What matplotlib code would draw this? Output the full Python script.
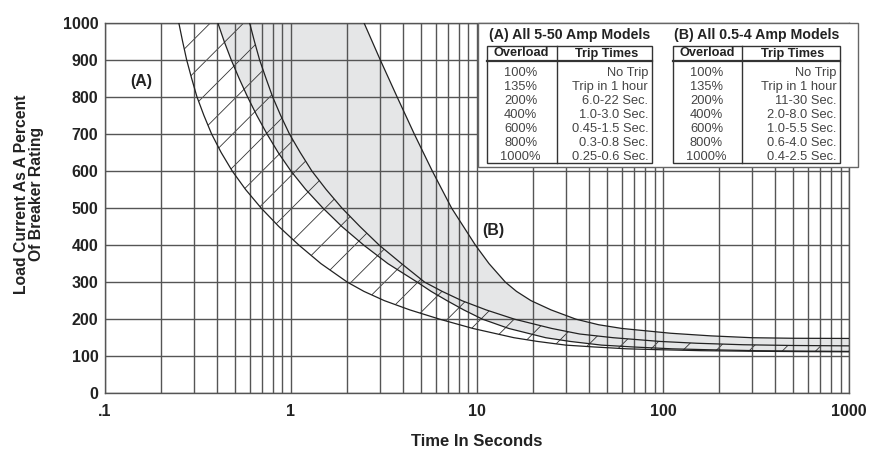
import numpy as np
import matplotlib
matplotlib.use("Agg")
import matplotlib.pyplot as plt
from matplotlib.patches import Rectangle
from matplotlib.lines import Line2D
from matplotlib.ticker import LogLocator, FixedLocator, NullFormatter

plt.rcParams['font.family'] = ['Liberation Sans', 'DejaVu Sans']
plt.rcParams['hatch.linewidth'] = 0.6

# ---- data: trip curves (load % of rating vs. time in seconds) ----
# (A) band, lower edge
a_lo_v = [1000, 950, 900, 850, 800, 750, 700, 650, 600, 550, 500, 450, 400, 350, 300,
          275, 250, 225, 200, 175, 150, 140, 130, 125, 120, 117.5, 115, 113.5, 112.5, 112]
a_lo_t = [0.25, 0.262, 0.2755, 0.293, 0.313, 0.341, 0.375, 0.422, 0.484, 0.571, 0.692,
          0.862, 1.104, 1.45, 2.01, 2.47, 3.18, 4.36, 6.3, 9.5, 15.8, 21.1, 30, 42.7, 64,
          98, 160, 300, 550, 1000]
# (A) band, upper edge
a_hi_v = [1000, 950, 900, 850, 800, 750, 700, 650, 600, 550, 500, 450, 400, 350, 300,
          275, 250, 225, 200, 175, 160, 150, 140, 135, 131, 129, 128]
a_hi_t = [0.6, 0.637, 0.679, 0.735, 0.798, 0.881, 0.982, 1.122, 1.296, 1.547, 1.88,
          2.35, 2.98, 3.93, 5.23, 6.5, 8.29, 11.2, 15.9, 25.2, 35.6, 53.9, 95.8, 152,
          270, 500, 1000]
# (B) band, lower edge
b_lo_v = [1000, 950, 900, 850, 800, 750, 700, 650, 600, 550, 500, 450, 400, 350, 300,
          275, 250, 225, 200, 175, 150, 140, 130, 125, 120, 117.5, 115, 114, 113]
b_lo_t = [0.405, 0.438, 0.478, 0.527, 0.585, 0.656, 0.744, 0.854, 1.0, 1.202, 1.486,
          1.88, 2.46, 3.32, 4.77, 5.67, 6.9, 8.49, 10.7, 14.8, 23.4, 31.6, 46.7, 69, 112,
          177, 316, 525, 1000]
# (B) band, upper edge
b_hi_v = [1000, 950, 900, 850, 800, 750, 700, 650, 600, 550, 500, 450, 400, 350, 300,
          275, 250, 225, 200, 185, 175, 162, 155, 150, 148.5, 148]
b_hi_t = [2.47, 2.731, 3.02, 3.352, 3.72, 4.137, 4.6, 5.143, 5.75, 6.479, 7.3, 8.458,
          9.8, 11.6, 14.2, 16.3, 19.5, 25, 34, 45, 60, 110, 180, 300, 500, 1000]

x_ticks = [0.1, 1, 10, 100, 1000]
x_labels = ['.1', '1', '10', '100', '1000']
y_ticks = list(range(0, 1001, 100))

# ---- table data ----
title_a = "(A) All 5-50 Amp Models"
title_b = "(B) All 0.5-4 Amp Models"
overloads = ['100%', '135%', '200%', '400%', '600%', '800%', '1000%']
trip_a = ['No Trip', 'Trip in 1 hour', '6.0-22 Sec.', '1.0-3.0 Sec.', '0.45-1.5 Sec.',
          '0.3-0.8 Sec.', '0.25-0.6 Sec.']
trip_b = ['No Trip', 'Trip in 1 hour', '11-30 Sec.', '2.0-8.0 Sec.', '1.0-5.5 Sec.',
          '0.6-4.0 Sec.', '0.4-2.5 Sec.']

W, H = 869, 453
fig = plt.figure(figsize=(W / 100, H / 100), dpi=100)

L, R, T, B = 104.7, 849.3, 22.7, 393.3
ax = fig.add_axes([L / W, 1 - B / H, (R - L) / W, (B - T) / H])
ax.set_xscale('log')
ax.set_xlim(0.1, 1000)
ax.set_ylim(0, 1000)

txt_c = '#222222'
grid_c = '#555555'
ax.xaxis.set_major_locator(FixedLocator(x_ticks))
ax.set_xticklabels(x_labels)
ax.xaxis.set_minor_locator(LogLocator(base=10, subs=np.arange(2, 10)))
ax.xaxis.set_minor_formatter(NullFormatter())
ax.set_yticks(y_ticks)
ax.set_yticklabels([str(v) for v in y_ticks])
ax.tick_params(which='both', length=0)
ax.tick_params(axis='x', pad=8, labelsize=11.5)
ax.tick_params(axis='y', pad=4.5, labelsize=11.5)
for lab in ax.get_xticklabels() + ax.get_yticklabels():
    lab.set_fontweight('bold')
    lab.set_color(txt_c)
ax.grid(which='both', color=grid_c, lw=1.0)
ax.set_axisbelow(False)
for s in ax.spines.values():
    s.set_color(grid_c)
    s.set_linewidth(1.0)

# gray band B
ax.fill(np.r_[b_lo_t, b_hi_t[::-1]], np.r_[b_lo_v, b_hi_v[::-1]],
        facecolor='#e5e6e7', edgecolor='none', zorder=1)
# hatched band A
ax.fill(np.r_[a_lo_t, a_hi_t[::-1]], np.r_[a_lo_v, a_hi_v[::-1]],
        facecolor='none', edgecolor='#333333', hatch='/', linewidth=0, zorder=1.5)

for t, v in [(a_lo_t, a_lo_v), (a_hi_t, a_hi_v), (b_lo_t, b_lo_v), (b_hi_t, b_hi_v)]:
    ax.plot(t, v, color='#222222', lw=0.9, zorder=3, solid_joinstyle='round')

ax.text(0.158, 842, '(A)', fontsize=11.5, fontweight='bold', ha='center', va='center', color=txt_c)
ax.text(12.3, 440, '(B)', fontsize=11.5, fontweight='bold', ha='center', va='center', color=txt_c)


def fx(x):
    return x / W


def fy(y):
    return 1 - y / H


fig.text(fx(477), fy(441), 'Time In Seconds', ha='center', va='center',
         fontsize=12, fontweight='bold', color=txt_c)
fig.text(fx(29), fy(194), 'Load Current As A Percent\nOf Breaker Rating', rotation=90,
         ha='center', va='center', multialignment='center', linespacing=1.0,
         fontsize=11.3, fontweight='bold', color=txt_c)


def rect(x0, y0, x1, y1, **kw):
    fig.patches.append(Rectangle((fx(x0), fy(y1)), fx(x1) - fx(x0), fy(y0) - fy(y1),
                                 transform=fig.transFigure, **kw))


def hline(x0, x1, y, **kw):
    fig.lines.append(Line2D([fx(x0), fx(x1)], [fy(y), fy(y)], transform=fig.transFigure, **kw))


def vline(x, y0, y1, **kw):
    fig.lines.append(Line2D([fx(x), fx(x)], [fy(y0), fy(y1)], transform=fig.transFigure, **kw))


# outer white box
rect(477.5, 22.7, 858, 167, facecolor='white', edgecolor='#666666', lw=1.0, zorder=5)

tables = [
    (title_a, trip_a, 486.7, 651.7, 556.7),
    (title_b, trip_b, 673.3, 840.0, 741.7),
]
top_y, hdr_y, bot_y = 46, 60.7, 163.3
for title, trips, x0, x1, xd in tables:
    rect(x0, top_y, x1, bot_y, facecolor='white', edgecolor='#333333', lw=1.0, zorder=6)
    hline(x0, x1, hdr_y, color='#333333', lw=1.6, zorder=7)
    vline(xd, top_y, bot_y, color='#333333', lw=1.0, zorder=7)
    fig.text(fx((x0 + x1) / 2), fy(35), title, ha='center', va='center',
             fontsize=10.2, fontweight='bold', color=txt_c, zorder=8)
    fig.text(fx((x0 + xd) / 2), fy(53.5), 'Overload', ha='center', va='center',
             fontsize=9.2, fontweight='bold', color=txt_c, zorder=8)
    fig.text(fx((xd + x1) / 2 + 2), fy(53.5), 'Trip Times', ha='center', va='center',
             fontsize=9.2, fontweight='bold', color=txt_c, zorder=8)
    for i, (ov, tr) in enumerate(zip(overloads, trips)):
        yy = 72.7 + 14 * i
        fig.text(fx((x0 + xd) / 2 - 1), fy(yy), ov, ha='center', va='center',
                 fontsize=9.3, color='#444444', zorder=8)
        fig.text(fx(x1 - 3.5), fy(yy), tr, ha='right', va='center',
                 fontsize=9.3, color='#444444', zorder=8)

fig.savefig('out.png', dpi=100)
